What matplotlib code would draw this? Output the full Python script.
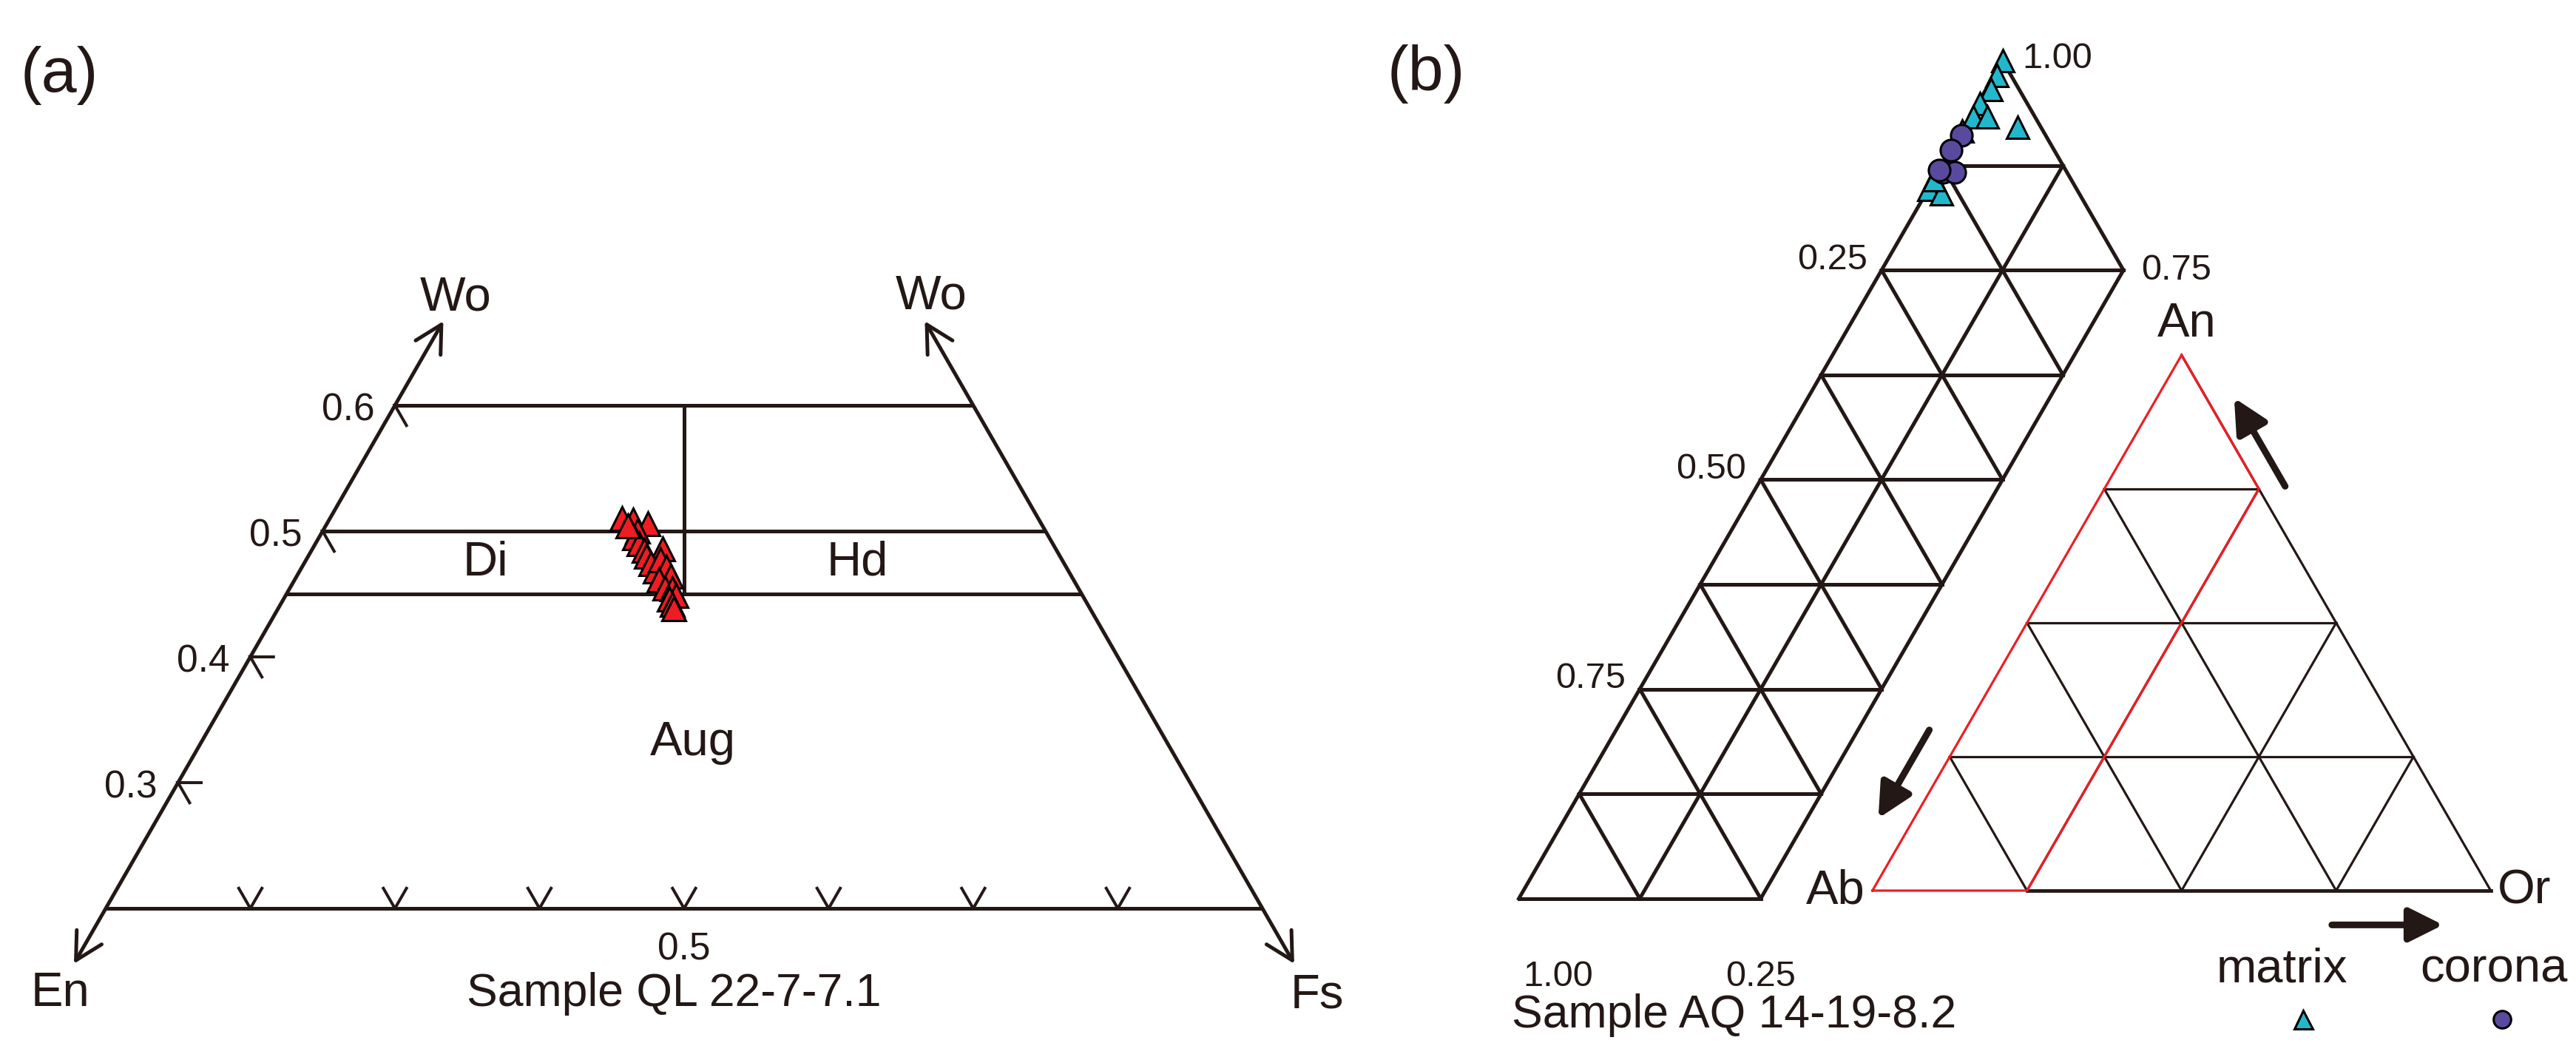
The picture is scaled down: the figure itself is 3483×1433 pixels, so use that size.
import numpy as np
import matplotlib
matplotlib.use('Agg')
import matplotlib.pyplot as plt

plt.rcParams['font.family'] = ['Liberation Sans', 'DejaVu Sans']

INK = '#231815'
RED = '#ee1d23'
CYAN = '#22b8cc'
PURPLE = '#5a4a9e'
S3 = np.sqrt(3) / 2

# (a) pyroxene analyses, sample QL 22-7-7.1 (mole fractions)
pyx_wo = [0.510, 0.509, 0.506, 0.500, 0.495, 0.490, 0.485, 0.480, 0.486, 0.474, 0.468,
          0.477, 0.471, 0.464, 0.461, 0.455, 0.454, 0.449, 0.446, 0.442, 0.438, 0.504]
pyx_fs = [0.202, 0.210, 0.222, 0.218, 0.218, 0.224, 0.230, 0.234, 0.242, 0.240, 0.246,
          0.245, 0.252, 0.259, 0.252, 0.259, 0.265, 0.270, 0.267, 0.271, 0.274, 0.209]
pyx_en = [0.288, 0.281, 0.272, 0.282, 0.287, 0.286, 0.285, 0.286, 0.272, 0.286, 0.286,
          0.278, 0.277, 0.277, 0.287, 0.286, 0.281, 0.281, 0.287, 0.287, 0.288, 0.287]

wo_ticks = [0.3, 0.4, 0.5, 0.6]
wo_tick_labels = ['0.3', '0.4', '0.5', '0.6']
fs_ticks = [0.1, 0.2, 0.3, 0.4, 0.5, 0.6, 0.7]   # along the Wo = 0.2 base
field_wo = [0.6, 0.5, 0.45, 0.2]                  # horizontal field boundaries

# (b) feldspar analyses, sample AQ 14-19-8.2 (An, Or fractions)
matrix_an = [1.000, 0.982, 0.966, 0.949, 0.933, 0.933, 0.921, 0.916, 0.846, 0.841, 0.858]
matrix_or = [0.000, 0.003, 0.005, 0.002, 0.003, 0.018, 0.055, 0.000, 0.001, 0.016, 0.000]
corona_an = [0.911, 0.893, 0.867, 0.867, 0.869]
corona_or = [0.002, 0.000, 0.005, 0.017, 0.000]


def pyx_xy(en, fs, wo):
    en, fs, wo = np.asarray(en), np.asarray(fs), np.asarray(wo)
    return fs + wo / 2, wo * S3


# magnified grid (left) and small An-Ab-Or triangle share one data space
GRID_X0, GRID_Y0, GRID_S = -0.5719, -0.0129, 1.5646


def plag_xy(an, orr):
    an, orr = np.asarray(an, float), np.asarray(orr, float)
    return orr + an / 2, an * S3


def grid_xy(an, orr):
    x, y = plag_xy(an, orr)
    return GRID_X0 + GRID_S * x, GRID_Y0 + GRID_S * y


fig = plt.figure(figsize=(34.83, 14.33), dpi=100)
ax_a = fig.add_axes([0, 0, 0.5, 1])
ax_b = fig.add_axes([0.5, 0, 0.5, 1])
for ax in (ax_a, ax_b):
    ax.axis('off')
ax_a.set_xlim(0.02685, 0.9177)
ax_a.set_ylim(0.0688, 0.7988)
ax_b.set_xlim(-0.9452, 1.1379)
ax_b.set_ylim(-0.2739, 1.4402)

LW = 3.6
BIG = 47
TICK = 37
off = dict(textcoords='offset points', annotation_clip=False)

# ---------------- panel (a) ----------------
for w in field_wo:
    x, y = pyx_xy([1 - w, 0], [0, 1 - w], [w, w])
    ax_a.plot(x, y, color=INK, lw=LW, solid_capstyle='butt')
x, y = pyx_xy([0.5 - 0.45 / 2, 0.5 - 0.6 / 2], [0.5 - 0.45 / 2, 0.5 - 0.6 / 2], [0.45, 0.6])
ax_a.plot(x, y, color=INK, lw=LW)

w_lo, w_hi = 0.156, 0.667
arrow_a = dict(arrowstyle='<->,head_length=26,head_width=14', mutation_scale=1,
               lw=LW, color=INK, shrinkA=0, shrinkB=0)
left_lo = pyx_xy(1 - w_lo, 0, w_lo)
left_hi = pyx_xy(1 - w_hi, 0, w_hi)
right_lo = pyx_xy(0, 1 - w_lo, w_lo)
right_hi = pyx_xy(0, 1 - w_hi, w_hi)
ax_a.annotate('', xy=left_hi, xytext=left_lo, arrowprops=arrow_a, annotation_clip=False)
ax_a.annotate('', xy=right_hi, xytext=right_lo, arrowprops=arrow_a, annotation_clip=False)

txt = dict(color=INK, ha='center', va='center')
ax_a.annotate('Wo', left_hi, xytext=(12, 23), fontsize=BIG, **off, **txt)
ax_a.annotate('Wo', right_hi, xytext=(6, 24), fontsize=BIG, **off, **txt)
ax_a.annotate('En', left_lo, xytext=(-13, -29), fontsize=BIG, **off, **txt)
ax_a.annotate('Fs', right_lo, xytext=(22, -31), fontsize=BIG, **off, **txt)

# ticks along the En-Wo side
L = 0.016
for w, lab in zip(wo_ticks, wo_tick_labels):
    x0, y0 = pyx_xy(1 - w, 0, w)
    ax_a.plot([x0 + L, x0, x0 + L * 0.5], [y0, y0, y0 - L * S3], color=INK, lw=LW * 0.8,
              solid_joinstyle='miter')
    ax_a.annotate(lab, (x0, y0), xytext=(-20, -5), fontsize=TICK, color=INK,
                  ha='right', va='center', **off)
# ticks along the base
for f in fs_ticks:
    x0, y0 = pyx_xy(0.8 - f, f, 0.2)
    ax_a.plot([x0 - L * 0.5, x0, x0 + L * 0.5], [y0 + L * S3, y0, y0 + L * S3],
              color=INK, lw=LW * 0.8)
xm, ym = pyx_xy(0.4, 0.4, 0.2)
ax_a.annotate('0.5', (xm, ym), xytext=(0, -40), fontsize=TICK, **off, **txt)

for lab, c, fs in [('Di', (0.40, 0.125, 0.475), BIG), ('Hd', (0.1425, 0.3825, 0.475), BIG),
                   ('Aug', (0.328, 0.34, 0.332), BIG),
                   ('Sample QL 22-7-7.1', (0.441, 0.427, 0.132), 45)]:
    x, y = pyx_xy(*c)
    ax_a.text(x, y, lab, fontsize=fs, **txt)

x, y = pyx_xy(pyx_en, pyx_fs, pyx_wo)
ax_a.plot(x, y, ls='none', marker='^', ms=23, mfc=RED, mec='black', mew=2.2)

# ---------------- panel (b) ----------------
GLW = 3.6
step = 0.125
# constant-An lines across the Or <= 0.25 strip
for k in range(0, 8):
    an = k * step
    ax_b.plot(*grid_xy([an, an], [0, min(0.25, 1 - an)]), color=INK, lw=GLW)
# constant-Or lines (parallel to Ab-An side)
for orr in [0, 0.125, 0.25]:
    ax_b.plot(*grid_xy([0, 1 - orr], [orr, orr]), color=INK, lw=GLW)
# constant-Ab lines (parallel to An-Or side)
for k in range(0, 8):
    ab = k * step
    o2 = min(0.25, 1 - ab)
    ax_b.plot(*grid_xy([1 - ab, 1 - ab - o2], [0, o2]), color=INK, lw=GLW)

# small An-Ab-Or triangle with 0.25 grid
TLW = 2.3
for v in [0.25, 0.5, 0.75]:
    ax_b.plot(*plag_xy([v, v], [0, 1 - v]), color=INK, lw=TLW)
    ax_b.plot(*plag_xy([0, 1 - v], [v, v]), color=INK, lw=TLW)
    ax_b.plot(*plag_xy([1 - v, 0], [0, 1 - v]), color=INK, lw=TLW)
ax_b.plot(*plag_xy([1, 0], [0, 1]), color=INK, lw=TLW)
ax_b.plot(*plag_xy([0, 0], [0.25, 1]), color=INK, lw=TLW * 1.5)
ax_b.plot(*plag_xy([0, 1, 0.75, 0, 0], [0, 0, 0.25, 0.25, 0]), color=RED, lw=TLW,
          solid_joinstyle='miter')

# tick labels of the magnified grid
tl = dict(color=INK, fontsize=35, va='center')
ax_b.annotate('1.00', grid_xy(1, 0), xytext=(19, 2), ha='left', **off, **tl)
ax_b.annotate('0.75', grid_xy(0.75, 0.25), xytext=(17, 0), ha='left', **off, **tl)
for an, lab in [(0.75, '0.25'), (0.5, '0.50'), (0.25, '0.75')]:
    ax_b.annotate(lab, grid_xy(an, 0), xytext=(-14, 10), ha='right', **off, **tl)
ax_b.annotate('1.00', grid_xy(0, 0), xytext=(38, -76), ha='center', **off, **tl)
ax_b.annotate('0.25', grid_xy(0, 0.25), xytext=(0, -76), ha='center', **off, **tl)

ax_b.annotate('An', plag_xy(1, 0), xytext=(5, 30), fontsize=BIG, **off, **txt)
ax_b.annotate('Ab', plag_xy(0, 0), xytext=(-36, 0), fontsize=BIG, **off, **txt)
ax_b.annotate('Or', plag_xy(0, 1), xytext=(33, 0), fontsize=BIG, **off, **txt)

arrow_b = dict(arrowstyle='-|>,head_length=28,head_width=14', mutation_scale=1,
               lw=6.5, color=INK, shrinkA=0, shrinkB=0)
for (an0, or0), (an1, or1) in [((0.755, 0.29), (0.92, 0.125)),
                               ((0.30, -0.058), (0.135, -0.058)),
                               ((-0.064, 0.775), (-0.064, 0.955))]:
    ax_b.annotate('', xy=plag_xy(an1, or1), xytext=plag_xy(an0, or0), arrowprops=arrow_b)

x, y = grid_xy(matrix_an, matrix_or)
ax_b.plot(x, y, ls='none', marker='^', ms=21, mfc=CYAN, mec='black', mew=2.2)
x, y = grid_xy(corona_an, corona_or)
ax_b.plot(x, y, ls='none', marker='o', ms=21, mfc=PURPLE, mec='black', mew=2.2)


# legend
def fig_pos(px, py):
    return px / 3483, 1 - py / 1433


fig.text(*fig_pos(80, 102), '(a)', fontsize=62, **txt)
fig.text(*fig_pos(1928, 100), '(b)', fontsize=62, **txt)
fig.text(*fig_pos(2345, 1373), 'Sample AQ 14-19-8.2', fontsize=45, **txt)
fig.text(*fig_pos(3085, 1311), 'matrix', fontsize=BIG, **txt)
fig.text(*fig_pos(3372, 1311), 'corona', fontsize=BIG, **txt)
fig.lines.append(plt.Line2D([fig_pos(3114, 1378)[0]], [fig_pos(3114, 1378)[1]],
                            transform=fig.transFigure, ls='none', marker='^', ms=18,
                            mfc=CYAN, mec='black', mew=2.2))
fig.lines.append(plt.Line2D([fig_pos(3383, 1378)[0]], [fig_pos(3383, 1378)[1]],
                            transform=fig.transFigure, ls='none', marker='o', ms=17,
                            mfc=PURPLE, mec='black', mew=2.2))

fig.savefig('out.png', dpi=100, facecolor='white')
